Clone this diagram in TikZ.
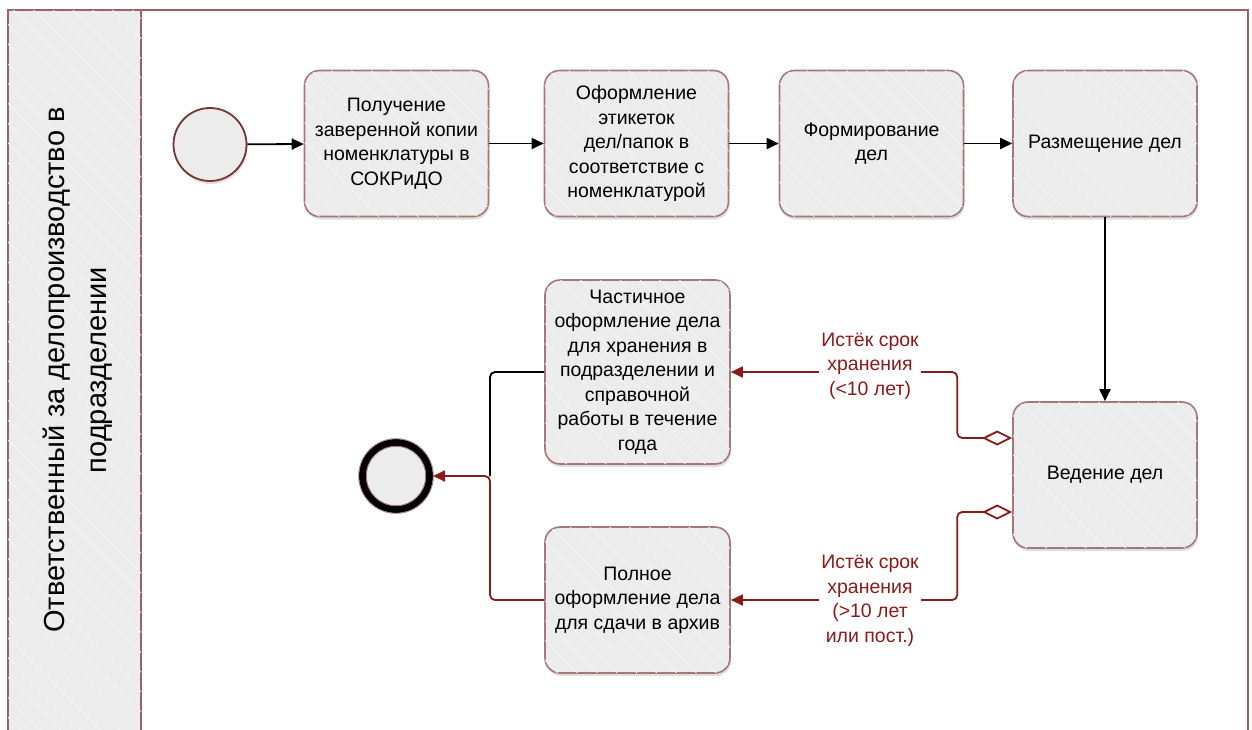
\documentclass[tikz,border=0pt]{standalone}
\usepackage{fontspec}
\setmainfont{Liberation Sans}
\usetikzlibrary{arrows.meta,shadows,patterns.meta,calc}
\definecolor{boxgray}{RGB}{236,236,236}
\definecolor{boxedge}{RGB}{165,120,120}
\definecolor{laneedge}{RGB}{150,100,100}
\definecolor{startedge}{RGB}{115,55,55}
\definecolor{darkred}{RGB}{139,26,26}
\begin{document}
\begin{tikzpicture}[x=1pt,y=-1pt,
  hatch/.style={postaction={pattern={Lines[angle=-45,distance=14pt,line width=0.8pt]},pattern color=boxgray!55!white}},
  softshadow/.style={drop shadow={shadow xshift=1pt,shadow yshift=-3pt,opacity=0.25}},
  task/.style={rectangle,rounded corners=15pt,draw=boxedge,line width=1.6pt,fill=boxgray,
    minimum width=184pt,minimum height=146pt,align=center,inner sep=2pt,
    font=\fontsize{19.5}{24.5}\selectfont,softshadow,hatch},
  startev/.style={circle,draw=startedge,line width=1.8pt,fill=boxgray,minimum size=73pt,inner sep=0pt,softshadow},
  endev/.style={circle,draw=black,line width=7pt,fill=boxgray,minimum size=67pt,inner sep=0pt,softshadow},
  flow/.style={line width=1.8pt,-{Triangle[length=12pt,width=11pt]}},
  redflow/.style={flow,darkred,rounded corners=5pt},
  cond/.style={darkred,line width=1.8pt,rounded corners=5pt,
    {Diamond[open,length=30pt,width=15pt]}-{Triangle[length=12pt,width=11pt]}},
  condlabel/.style={fill=white,text=darkred,align=center,inner sep=2pt,font=\fontsize{19.5}{24.5}\selectfont},
  lanelabel/.style={rotate=90,align=center,font=\fontsize{29}{42}\selectfont}
]
\useasboundingbox (0,0) rectangle (1252,729);
\clip (0,0) rectangle (1252,729);
\fill[white] (0,0) rectangle (1252,729);

% lane
\draw[laneedge,line width=1.6pt] (8,745) -- (8,10) -- (1248,10) -- (1248,745);
\draw[laneedge,line width=1.6pt,fill=boxgray,hatch] (8,10) rectangle (141,745);
\node[lanelabel] (lane) at (78,370) {Ответственный за делопроизводство в\\подразделении};

% events
\node[startev] (start) at (210,144.5) {};
\node[endev] (end) at (396,476) {};
\draw[boxedge,line width=0.9pt] (end.center) circle[radius=37.3] (end.center) circle[radius=29.7];

% tasks
\node[task] (t1) at (396.5,143.5) {Получение\\заверенной копии\\номенклатуры в\\СОКРиДО};
\node[task] (t2) at (636.5,143.5) {Оформление\\этикеток\\дел/папок в\\соответствие с\\номенклатурой};
\node[task] (t3) at (871.5,143.5) {Формирование\\дел};
\node[task] (t4) at (1105,143.5) {Размещение дел};
\node[task] (t5) at (1105,475) {Ведение дел};
\node[task,minimum height=184pt,minimum width=185pt] (t6) at (637.5,372) {Частичное\\оформление дела\\для хранения в\\подразделении и\\справочной\\работы в течение\\года};
\node[task,minimum width=185pt] (t7) at (637.5,600) {Полное\\оформление дела\\для сдачи в архив};

% sequence flows
\draw[flow] (start) -- (t1);
\draw[flow] (t1) -- (t2);
\draw[flow] (t2) -- (t3);
\draw[flow] (t3) -- (t4);
\draw[flow] (t4) -- (t5);

\coordinate (j) at (490,476);
\draw[line width=1.8pt,rounded corners=5pt] (t6.west) -| (j);
\draw[redflow] (t7.west) -| (j) -- (end.east);

\coordinate (d1) at ([yshift=37pt]t5.west);
\coordinate (d2) at ([yshift=-37pt]t5.west);
\draw[cond] (d1) -- ++(-55,0) |- (t6.east);
\draw[cond] (d2) -- ++(-55,0) |- (t7.east);

\node[condlabel] (c1) at (870,366) {Истёк срок\\хранения\\(<10 лет)};
\node[condlabel] (c2) at (870,601) {Истёк срок\\хранения\\(>10 лет\\или пост.)};
\end{tikzpicture}
\end{document}
